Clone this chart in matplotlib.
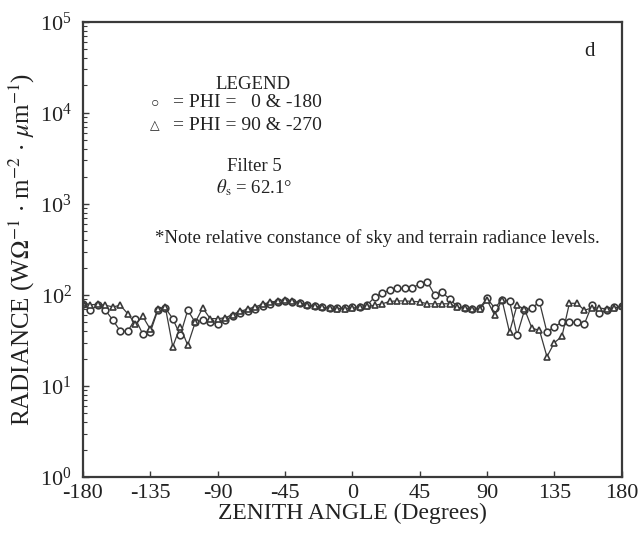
import numpy as np
import matplotlib
matplotlib.use('Agg')
import matplotlib.pyplot as plt
from matplotlib.ticker import LogLocator, NullFormatter

plt.rcParams['font.family'] = ['Liberation Serif', 'DejaVu Serif']
plt.rcParams['mathtext.fontset'] = 'stix'
plt.rcParams['axes.unicode_minus'] = False

# zenith angle grid, 5 degree steps
angles = np.arange(-180, 181, 5)

# PHI = 0 & -180 (circles)
phi0 = [80, 68, 77, 68, 53, 40, 40, 55, 37, 39,
        68, 72, 55, 36, 68, 50, 53, 50, 48, 53,
        58, 63, 67, 71, 76, 80, 84, 86, 84, 81,
        77, 75, 73, 72, 72, 72, 73, 74, 78, 95,
        105, 113, 118, 118, 120, 132, 140, 100, 107, 90,
        75, 72, 70, 72, 92, 72, 88, 86, 36, 68,
        72, 84, 39, 45, 50, 50, 50, 48, 77, 63,
        68, 73, 75]

# PHI = 90 & -270 (triangles)
phi90 = [82, 78, 79, 77, 74, 77, 62, 48, 58, 42,
         70, 74, 27, 45, 28, 50, 72, 55, 55, 56,
         61, 66, 70, 74, 79, 83, 86, 88, 86, 82,
         78, 75, 73, 72, 71, 71, 72, 73, 75, 77,
         80, 85, 86, 86, 85, 84, 80, 80, 80, 80,
         73, 72, 70, 70, 88, 60, 88, 39, 77, 70,
         43, 41, 21, 30, 35, 81, 81, 68, 72, 72,
         70, 72, 75]

ink = '#3a3a3a'
tc = '#222222'

fig = plt.figure(figsize=(6.43, 5.33), dpi=100)
ax = fig.add_axes([0.129, 0.105, 0.838, 0.854])

ax.plot(angles, phi0, color=ink, lw=0.9, marker='o', ms=4.8,
        mfc='white', mec=ink, mew=1.2)
ax.plot(angles, phi90, color=ink, lw=0.9, marker='^', ms=4.8,
        mfc='white', mec=ink, mew=1.2)

ax.set_yscale('log')
ax.set_ylim(1, 1e5)
ax.set_xlim(-180, 180)
ax.set_xticks(np.arange(-180, 181, 45))
ax.yaxis.set_major_locator(LogLocator(base=10, numticks=10))
ax.yaxis.set_minor_locator(LogLocator(base=10, subs=np.arange(2, 10), numticks=10))
ax.yaxis.set_minor_formatter(NullFormatter())
ax.tick_params(axis='both', which='major', labelsize=16, direction='in',
               length=4, width=1.0, colors=ink, labelcolor=tc)
ax.tick_params(axis='y', which='minor', direction='in', length=3, width=0.8, colors=ink)
ax.tick_params(axis='y', which='major', pad=8)
ax.tick_params(axis='x', pad=5)
for s in ax.spines.values():
    s.set_linewidth(1.6)
    s.set_color(ink)

ax.set_xlabel('ZENITH ANGLE (Degrees)', fontsize=17, color=tc, labelpad=0)
ax.set_ylabel(r'RADIANCE (W$\Omega^{-1}$ $\cdot$ m$^{-2}$ $\cdot$ $\mu$m$^{-1}$)',
              fontsize=18, color=tc, labelpad=2)

ax.text(0.94, 0.935, 'd', transform=ax.transAxes, fontsize=15, color=tc,
        ha='center', va='center')
ax.text(0.315, 0.862, 'LEGEND', transform=ax.transAxes, fontsize=13.5, color=tc,
        ha='center', va='center')
# legend symbols
ax.text(0.133, 0.823, '\u25cb', transform=ax.transAxes, fontsize=10, color=tc,
        ha='center', va='center')
ax.text(0.133, 0.771, '\u25b3', transform=ax.transAxes, fontsize=9, color=tc,
        ha='center', va='center')
ax.text(0.168, 0.823, '= PHI =   0 & -180', transform=ax.transAxes,
        fontsize=14, color=tc, ha='left', va='center')
ax.text(0.168, 0.773, '= PHI = 90 & -270', transform=ax.transAxes,
        fontsize=14, color=tc, ha='left', va='center')
ax.text(0.318, 0.682, 'Filter 5', transform=ax.transAxes, fontsize=13.5,
        color=tc, ha='center', va='center')
ax.text(0.318, 0.636, r'$\theta_{\rm s}$ = 62.1°', transform=ax.transAxes,
        fontsize=13.5, color=tc, ha='center', va='center')
ax.text(0.547, 0.524, '*Note relative constance of sky and terrain radiance levels.',
        transform=ax.transAxes, fontsize=13.5, color=tc, ha='center', va='center')

fig.savefig('out.png', dpi=100)
